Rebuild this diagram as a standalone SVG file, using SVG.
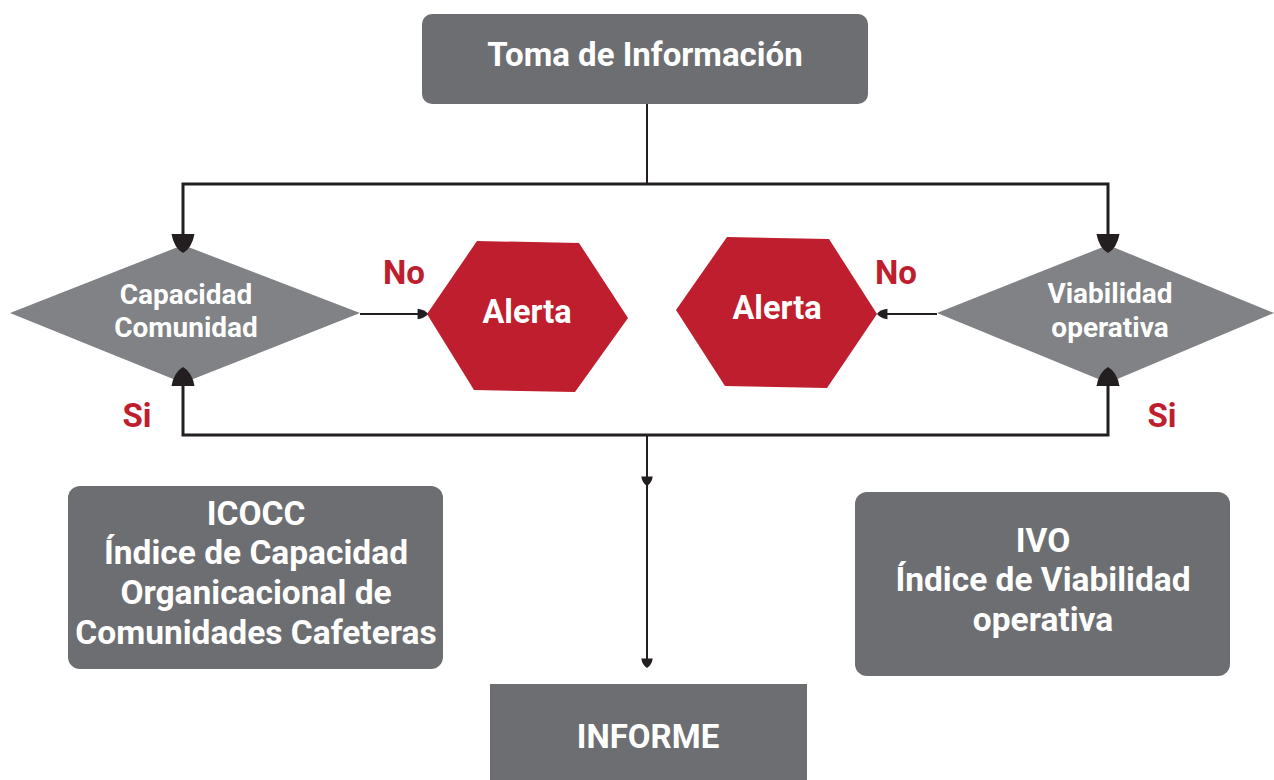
<svg xmlns="http://www.w3.org/2000/svg" width="1274" height="780" viewBox="0 0 1274 780">
<style>
.box{fill:#6d6e71}
.dia{fill:#808285}
.hex{fill:#be1e2d}
.wt{fill:#ffffff;font-family:Roboto,"Liberation Sans",sans-serif;font-weight:bold;text-anchor:middle}
.rt{fill:#be1e2d;font-family:Roboto,"Liberation Sans",sans-serif;font-weight:bold;text-anchor:middle;font-size:33px}
.ln{fill:none;stroke:#231f20;stroke-width:3}
.lt{fill:none;stroke:#231f20;stroke-width:2}
.ah{fill:#231f20}
</style>
<defs>
<path id="ahd" d="M-11.5,-19 L11.5,-19 Q9,-5 0,0 Q-9,-5 -11.5,-19 Z"/>
</defs>
<rect width="1274" height="780" fill="#ffffff"/>
<g id="toma">
<rect class="box" x="422" y="14" width="446" height="90" rx="10"/>
<text class="wt" x="645" y="66" font-size="33">Toma de Información</text>
</g>
<g id="capacidad">
<polygon class="dia" points="10,313 183,245 360,313 183,383"/>
<text class="wt" x="186" y="304" font-size="28">Capacidad</text>
<text class="wt" x="186" y="337" font-size="28">Comunidad</text>
</g>
<g id="viabilidad">
<polygon class="dia" points="937,313 1108,245 1274,313 1108,383"/>
<text class="wt" x="1110" y="303" font-size="28">Viabilidad</text>
<text class="wt" x="1110" y="337" font-size="28">operativa</text>
</g>
<g id="alerta1">
<polygon class="hex" points="427,314 477,241 579,243 628,318 575,392 474,390"/>
<text class="wt" x="527" y="323" font-size="32.5">Alerta</text>
</g>
<g id="alerta2">
<polygon class="hex" points="676,310 727,237 829,239 877,314 827,388 725,386"/>
<text class="wt" x="777" y="319" font-size="32.5">Alerta</text>
</g>
<g id="labels">
<text class="rt" x="404" y="284">No</text>
<text class="rt" x="896" y="284">No</text>
<text class="rt" x="137" y="427">Si</text>
<text class="rt" x="1162" y="427">Si</text>
</g>
<g id="icocc">
<rect class="box" x="68" y="486" width="375" height="183" rx="12"/>
<text class="wt" x="256" y="525" font-size="33.5">ICOCC</text>
<text class="wt" x="256" y="564" font-size="33.5">Índice de Capacidad</text>
<text class="wt" x="256" y="604" font-size="33.5">Organicacional de</text>
<text class="wt" x="256" y="644" font-size="33.5">Comunidades Cafeteras</text>
</g>
<g id="ivo">
<rect class="box" x="855" y="492" width="375" height="184" rx="12"/>
<text class="wt" x="1043" y="552" font-size="33.5">IVO</text>
<text class="wt" x="1043" y="591" font-size="33.5">Índice de Viabilidad</text>
<text class="wt" x="1043" y="631" font-size="33.5">operativa</text>
</g>
<g id="informe">
<rect class="box" x="490" y="684" width="317" height="100"/>
<text class="wt" x="648" y="748" font-size="33">INFORME</text>
</g>
<g id="connectors">
<polyline class="lt" points="647,104 647,184"/>
<polyline class="ln" points="183,246 183,184 1108,184 1108,246"/>
<polyline class="ln" points="183,372 183,435 1108,435 1108,372"/>
<line class="lt" x1="647" y1="435" x2="647" y2="662"/>
<line class="lt" x1="360" y1="314" x2="420" y2="314"/>
<line class="lt" x1="937" y1="314" x2="885" y2="314"/>
<use class="ah" href="#ahd" transform="translate(183,253)"/>
<use class="ah" href="#ahd" transform="translate(1108,253)"/>
<use class="ah" href="#ahd" transform="translate(183,367) rotate(180)"/>
<use class="ah" href="#ahd" transform="translate(1108,367) rotate(180)"/>
<use class="ah" href="#ahd" transform="translate(647,486) scale(0.5)"/>
<use class="ah" href="#ahd" transform="translate(647,668) scale(0.5)"/>
<use class="ah" href="#ahd" transform="translate(428,314) rotate(-90) scale(0.45,0.55)"/>
<use class="ah" href="#ahd" transform="translate(877,314) rotate(90) scale(0.45,0.55)"/>
</g>
</svg>
